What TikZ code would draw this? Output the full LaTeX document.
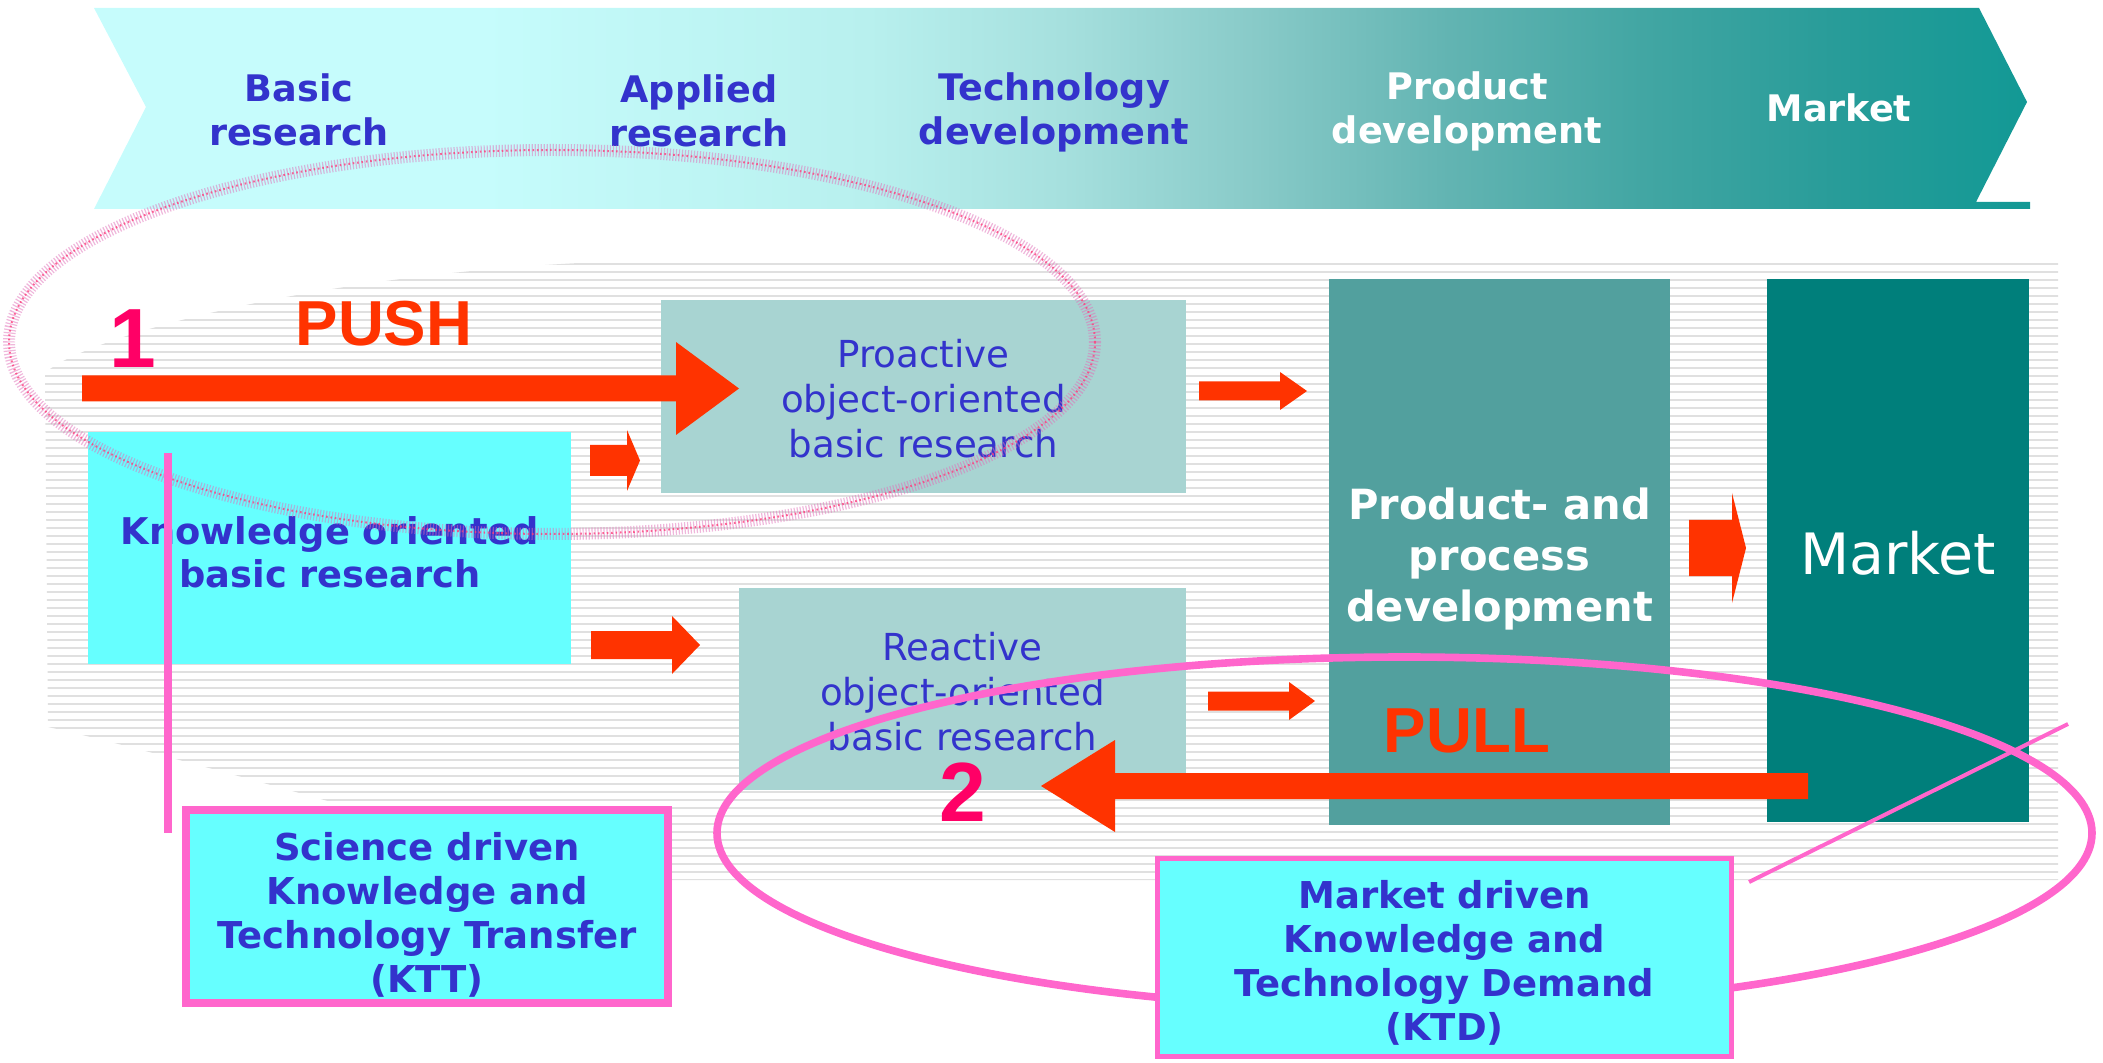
\documentclass[tikz,border=0pt]{standalone}
\usepackage{fontspec}
\setmainfont{DejaVu Sans}
\newfontfamily\arialfont{Liberation Sans}

\definecolor{txtblue}{HTML}{3333CC}
\definecolor{pushred}{HTML}{FF3300}
\definecolor{numpink}{HTML}{FF0066}
\definecolor{calloutpink}{HTML}{FF66CC}
\definecolor{specklepink}{HTML}{E070B8}
\definecolor{kcyan}{HTML}{66FFFF}
\definecolor{objteal}{HTML}{A8D4D2}
\definecolor{prodteal}{HTML}{52A09E}
\definecolor{markteal}{HTML}{007F7B}
\definecolor{bandA}{HTML}{C6FCFC}
\definecolor{bandB}{HTML}{B8F0EE}
\definecolor{bandC}{HTML}{A6E0DE}
\definecolor{bandD}{HTML}{88CAC8}
\definecolor{bandE}{HTML}{62B4B2}
\definecolor{bandF}{HTML}{42A6A3}
\definecolor{bandG}{HTML}{289C99}
\definecolor{bandH}{HTML}{129995}
\definecolor{stripegray}{HTML}{E0E0E0}

\pgfdeclarehorizontalshading{stageband}{100bp}{color(0bp)=(bandA); color(25bp)=(bandA);
  color(35bp)=(bandA); color(45bp)=(bandB); color(50bp)=(bandC); color(55bp)=(bandD);
  color(60bp)=(bandE); color(65bp)=(bandF); color(70bp)=(bandG); color(75bp)=(bandH);
  color(100bp)=(bandH)}

% block arrow: tail x, head base x, tip x, y, shaft half, head half
\newcommand{\blockarrow}[6]{%
  \fill[pushred] (#1,#4-#5) -- (#2,#4-#5) -- (#2,#4-#6) -- (#3,#4)
    -- (#2,#4+#6) -- (#2,#4+#5) -- (#1,#4+#5) -- cycle;}

\tikzset{
  stripe/.style={draw=stripegray, line width=1.2pt},
  stage/.style={font=\fontsize{18.3}{22}\selectfont\bfseries, text=txtblue, align=center},
  block/.style={inner sep=0pt, align=center},
  knowtext/.style={block, font=\fontsize{18.4}{21.5}\selectfont\bfseries, text=txtblue},
  objtext/.style={block, font=\fontsize{18.6}{22.5}\selectfont, text=txtblue},
  prodtext/.style={block, font=\fontsize{20.8}{25.5}\selectfont\bfseries, text=white},
  markettext/.style={block, font=\fontsize{28.5}{34}\selectfont, text=white},
  drivertext/.style={block, font=\fontsize{18.5}{22}\selectfont\bfseries, text=txtblue},
  driverbox/.style={block, fill=kcyan, draw=calloutpink},
  flowword/.style={font=\arialfont\bfseries\fontsize{31.8}{38}\selectfont, text=pushred},
  stepnum/.style={font=\arialfont\bfseries\fontsize{42}{50}\selectfont, text=numpink},
  speckle/.style={draw=specklepink, line width=6pt, dash pattern=on 0.6pt off 0.9pt, opacity=0.5},
  callout/.style={draw=calloutpink}
}

\begin{document}
\begin{tikzpicture}[x=0.5pt,y=-0.5pt]
\useasboundingbox (0,0) rectangle (2103,1063);

% striped floor
\begin{scope}
\clip (2058,262) -- (600,262) .. controls (300,275) and (80,340) .. (45,373)
  -- (48,727) .. controls (130,745) and (330,800) .. (600,880) -- (2058,880) -- cycle;
\foreach \ypos in {264,272,...,880}
  \draw[stripe] (40,\ypos) -- (2060,\ypos);
\end{scope}

% stage banner
\shade[shading=stageband]
  (94,8) -- (1979,8) -- (2027,102) -- (1976,202) -- (2030,202) -- (2030,209)
  -- (94,209) -- (146,107) -- cycle;
\node[stage] (basic) at (299,110) {Basic\\research};
\node[stage] (applied) at (699,111) {Applied\\research};
\node[stage] (techdev) at (1054,112) {Technology\\development};
\node[stage, text=white] (proddev) at (1467,111) {Product\\development};
\node[stage, text=white] (marketstage) at (1839,108) {Market};

% boxes
\node[block, fill=kcyan, minimum width=241.5pt, minimum height=116pt] (knowbox) at (329.5,548) {};
\node[block, fill=objteal, minimum width=262.5pt, minimum height=96.5pt] (probox) at (923.5,396.5) {};
\node[block, fill=objteal, minimum width=223.5pt, minimum height=101pt] (reabox) at (962.5,689) {};
\node[block, fill=prodteal, minimum width=170.5pt, minimum height=273pt] (prodbox) at (1499.5,552) {};
\node[block, fill=markteal, minimum width=131pt, minimum height=271.5pt] (marketbox) at (1898,550.5) {};
\node[knowtext] (knowledge) at (330,552) {Knowledge oriented\\basic research};
\node[objtext] (proactive) at (923.5,399) {Proactive\\object-oriented\\basic research};
\node[objtext] (reactive) at (962.5,692) {Reactive\\object-oriented\\basic research};
\node[prodtext] (product) at (1499.5,559) {Product- and\\process\\development};
\node[markettext] (market) at (1898,553) {Market};

% arrows
\blockarrow{82}{676}{739}{388.5}{13}{46.5}
\blockarrow{590}{627}{640}{460.5}{15.5}{30.5}
\blockarrow{591}{672}{700}{645}{14}{29}
\blockarrow{1199}{1280}{1307}{391}{9.5}{19}
\blockarrow{1208}{1289}{1315}{701}{9.5}{19}
\blockarrow{1689}{1732}{1746}{548}{28}{55}
\blockarrow{1808}{1115}{1041}{786}{13}{46}

% push and pull
\node[flowword] (push) at (384,324) {PUSH};
\node[flowword] (pull) at (1467,731) {PULL};
\node[stepnum] (one) at (133,339) {1};
\node[stepnum] (two) at (963,792) {2};

% rings
\draw[speckle] (552,342) ellipse [x radius=543, y radius=192];
\draw[draw=calloutpink!60!red, line width=1pt, dash pattern=on 0.8pt off 1.4pt, opacity=0.8]
  (552,342) ellipse [x radius=543, y radius=192];
\draw[callout, line width=3.8pt] (1404.5,833) ellipse [x radius=687.5, y radius=176];

% drivers
\node[driverbox, line width=4pt, minimum width=241pt, minimum height=96.5pt] (kttbox) at (427,906.5) {};
\node[drivertext] (ktt) at (427,915) {Science driven\\Knowledge and\\Technology Transfer\\(KTT)};
\node[driverbox, line width=2.5pt, minimum width=287pt, minimum height=99pt] (ktdbox) at (1444.5,957.5) {};
\node[drivertext] (ktd) at (1444.5,963) {Market driven\\Knowledge and\\Technology Demand\\(KTD)};

\coordinate (ktttop) at (168,453);
\coordinate (kttfoot) at (168,833);
\draw[callout, line width=3.7pt] (ktttop) -- (kttfoot);
\coordinate (ktdfoot) at (1749,882);
\coordinate (ktdend) at (2068,724);
\draw[callout, line width=2pt] (ktdfoot) -- (ktdend);
\end{tikzpicture}
\end{document}
